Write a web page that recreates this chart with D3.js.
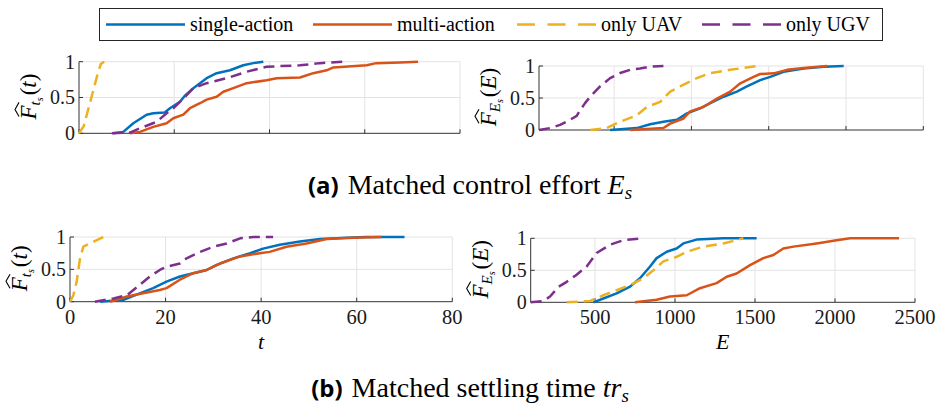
<!DOCTYPE html>
<html><head><meta charset="utf-8">
<script src="https://cdn.jsdelivr.net/npm/d3@7"></script>
<style>body{margin:0;background:#fff} svg{display:block}</style>
</head><body><svg id="c" width="936" height="417"></svg>
<script>
// Empirical CDFs: [x, F] breakpoints for each configuration
const seriesNames = ["single-action", "multi-action", "only UAV", "only UGV"];

// (a) matched control effort — settling time t
const effortT_single = [[7.2,0],[9.3,0.02],[11.4,0.14],[14.2,0.26],[15.6,0.28],[18,0.29],[19.1,0.35],[21.2,0.44],[22.3,0.53],[24,0.63],[25.4,0.7],[26.8,0.77],[28.9,0.84],[31.7,0.88],[34.5,0.95],[36.6,0.98],[38.7,1]];
const effortT_multi = [[10.7,0],[12.8,0.02],[15.6,0.09],[18.4,0.14],[19.8,0.21],[21.9,0.26],[23.3,0.35],[25.4,0.42],[26.8,0.47],[28.9,0.51],[30.3,0.58],[32.4,0.63],[35.2,0.7],[39.4,0.74],[41.5,0.77],[46.4,0.78],[49.2,0.84],[52,0.88],[53.4,0.92],[60.4,0.95],[62.4,0.98],[67.4,0.99],[71.2,1]];
const effortT_uav = [[0,0],[1,0.1],[2,0.35],[3,0.6],[4,0.85],[4.6,0.97],[5.3,1]];
const effortT_ugv = [[6.9,0],[10.7,0.01],[12.8,0.07],[16.3,0.16],[18.4,0.28],[19.8,0.35],[22.3,0.51],[24,0.63],[26.8,0.7],[31,0.77],[35.2,0.86],[39.4,0.93],[46.4,0.95],[50.6,0.98],[55.5,1]];

// (a) matched control effort — energy E
const effortE_single = [[474,0],[647,0.03],[733,0.09],[819,0.13],[906,0.16],[971,0.26],[1057,0.34],[1122,0.42],[1208,0.52],[1294,0.6],[1359,0.68],[1445,0.78],[1510,0.83],[1596,0.91],[1726,0.96],[1855,0.99],[1985,1]];
const effortE_multi = [[604,0],[819,0.03],[863,0.1],[949,0.18],[992,0.29],[1078,0.36],[1165,0.49],[1251,0.6],[1316,0.73],[1402,0.83],[1445,0.875],[1532,0.885],[1618,0.94],[1726,0.97],[1877,1]];
const effortE_uav = [[345,0],[453,0.03],[539,0.13],[647,0.23],[712,0.36],[798,0.44],[863,0.6],[927,0.68],[1035,0.81],[1122,0.89],[1251,0.94],[1424,1]];
const effortE_ugv = [[14,0],[86,0.03],[150,0.08],[215,0.16],[258,0.22],[280,0.31],[312,0.42],[345,0.52],[409,0.68],[474,0.81],[539,0.89],[604,0.94],[668,0.96],[733,0.99],[819,1]];

// (b) matched settling time — settling time t
const settleT_single = [[6.3,0],[11.2,0.03],[14.6,0.13],[17.4,0.21],[20.2,0.31],[23,0.39],[25.8,0.44],[28.6,0.49],[30.7,0.57],[34.2,0.67],[37.7,0.75],[40.4,0.82],[43.9,0.88],[48.1,0.93],[52.3,0.97],[57.9,0.99],[62,1],[70,1]];
const settleT_multi = [[8.4,0],[11.9,0.08],[15.3,0.13],[18.8,0.18],[20.2,0.21],[23,0.34],[25.8,0.44],[28.6,0.49],[31.4,0.59],[35.6,0.7],[39.7,0.75],[41.8,0.77],[45.3,0.85],[49.5,0.9],[53.7,0.97],[59.3,0.99],[65.2,1]];
const settleT_uav = [[0,0],[0.7,0.1],[1.4,0.31],[2.1,0.67],[2.8,0.85],[4.2,0.9],[5.6,0.95],[7,1]];
const settleT_ugv = [[5.2,0],[9.1,0.05],[11.9,0.1],[14.6,0.26],[16.7,0.39],[18.8,0.49],[20.2,0.54],[23,0.59],[24.4,0.67],[27.2,0.77],[30,0.85],[32.8,0.9],[35.6,0.98],[38.4,1],[42.5,1]];

// (b) matched settling time — energy E
const settleE_single = [[490,0],[552,0.06],[635,0.14],[719,0.245],[781,0.375],[844,0.56],[885,0.69],[948,0.79],[1010,0.84],[1052,0.92],[1135,0.98],[1302,1],[1510,1]];
const settleE_multi = [[750,0],[885,0.04],[969,0.09],[1073,0.11],[1156,0.22],[1260,0.3],[1323,0.4],[1385,0.45],[1469,0.58],[1552,0.69],[1615,0.74],[1677,0.84],[1740,0.87],[1885,0.92],[2010,0.97],[2094,1],[2400,1]];
const settleE_uav = [[323,0],[469,0.02],[552,0.11],[635,0.19],[719,0.27],[802,0.375],[865,0.5],[927,0.64],[1010,0.71],[1073,0.79],[1177,0.87],[1302,0.92],[1427,1]];
const settleE_ugv = [[98,0],[177,0.02],[219,0.09],[271,0.24],[323,0.32],[385,0.43],[448,0.56],[510,0.77],[594,0.9],[677,0.97],[792,1]];

// Tick values
const ticksT = [0, 20, 40, 60, 80];
const ticksE = [500, 1000, 1500, 2000, 2500];
const ticksF = [0, 0.5, 1];

const colors = ["#0072BD", "#D95319", "#EDB120", "#7E2F8E"];
const dashes = [null, null, "11,6", "11,6"];
const serif = "'Liberation Serif', 'Times New Roman', serif";

const svg = d3.select("#c");

const panels = [
  {box:[79, 460, 133.3, 61.7], xmax:80, ticks:ticksT, labels:false, sub:"t", arg:"t",
   data:[effortT_single, effortT_multi, effortT_uav, effortT_ugv]},
  {box:[539, 923.3, 130, 66], xmax:2500, ticks:ticksE, labels:false, sub:"E", arg:"E",
   data:[effortE_single, effortE_multi, effortE_uav, effortE_ugv]},
  {box:[70, 452.3, 301.7, 237], xmax:80, ticks:ticksT, labels:true, sub:"t", arg:"t", xlab:"t",
   data:[settleT_single, settleT_multi, settleT_uav, settleT_ugv]},
  {box:[530.7, 915, 302.3, 238.3], xmax:2500, ticks:ticksE, labels:true, sub:"E", arg:"E", xlab:"E",
   data:[settleE_single, settleE_multi, settleE_uav, settleE_ugv]}
];

function yLabel(g, cx, cy, sub, arg) {
  const G = g.append("g").attr("transform", `translate(${cx},${cy}) rotate(-90)`);
  const t = G.append("text").attr("y", 6).attr("font-family", serif).attr("fill", "#000");
  const f = t.append("tspan").attr("font-style", "italic").attr("font-size", 23).text("F");
  t.append("tspan").attr("font-style", "italic").attr("font-size", 15).attr("dy", 4).text(sub);
  t.append("tspan").attr("font-style", "italic").attr("font-size", 10).attr("dy", 3).text("s");
  t.append("tspan").attr("font-size", 23).attr("dy", -7).attr("dx", 2).text("(");
  t.append("tspan").attr("font-style", "italic").attr("font-size", 23).text(arg);
  t.append("tspan").attr("font-size", 23).text(")");
  const w = t.node().getComputedTextLength();
  t.attr("x", -w / 2);
  const fw = f.node().getComputedTextLength();
  const hx = -w / 2 + 3;
  G.append("path")
    .attr("d", `M${hx},${-11} L${hx + fw / 2},${-15} L${hx + fw},${-11}`)
    .attr("fill", "none").attr("stroke", "#000").attr("stroke-width", 1.1);
}

panels.forEach(p => {
  const [x0, x1, y0, y1] = p.box;
  const xmin = p.xmax === 80 ? 0 : d3.min(p.data[3], d => d[0]);
  const x = d3.scaleLinear().domain([xmin, p.xmax]).range([x0, x1]);
  const y = d3.scaleLinear().domain([0, 1]).range([y0, y1]);
  const g = svg.append("g");

  // grid
  g.selectAll(null).data(p.ticks.filter(v => v > xmin)).join("line")
    .attr("x1", d => x(d)).attr("x2", d => x(d)).attr("y1", y0).attr("y2", y1)
    .attr("stroke", "#e3e3e3").attr("stroke-width", 1);
  g.selectAll(null).data(ticksF.filter(v => v > 0)).join("line")
    .attr("x1", x0).attr("x2", x1).attr("y1", d => y(d)).attr("y2", d => y(d))
    .attr("stroke", "#e3e3e3").attr("stroke-width", 1);

  // axes
  const ax = g.append("g").attr("stroke", "#333").attr("stroke-width", 1);
  ax.append("line").attr("x1", x0).attr("x2", x1).attr("y1", y0).attr("y2", y0);
  ax.append("line").attr("x1", x0).attr("x2", x0).attr("y1", y0).attr("y2", y1);
  ax.selectAll(null).data(p.ticks.filter(v => v >= xmin)).join("line")
    .attr("x1", d => x(d)).attr("x2", d => x(d)).attr("y1", y0).attr("y2", y0 - 4);
  ax.selectAll(null).data(ticksF).join("line")
    .attr("x1", x0).attr("x2", x0 + 4).attr("y1", d => y(d)).attr("y2", d => y(d));

  // y tick labels
  g.selectAll(null).data(ticksF).join("text")
    .attr("x", x0 - 4).attr("y", d => y(d)).attr("dy", "0.34em")
    .attr("text-anchor", "end").attr("font-family", serif).attr("font-size", 20)
    .attr("fill", "#1a1a1a").text(d => d3.format("")(d));

  if (p.labels) {
    g.selectAll(null).data(p.ticks).join("text")
      .attr("x", d => x(d)).attr("y", y0 + 22)
      .attr("text-anchor", "middle").attr("font-family", serif).attr("font-size", 20.5)
      .attr("fill", "#1a1a1a").text(d => d);
    g.append("text").attr("x", (x0 + x1) / 2).attr("y", y0 + 47)
      .attr("text-anchor", "middle").attr("font-family", serif).attr("font-style", "italic")
      .attr("font-size", 22).text(p.xlab);
  }

  yLabel(g, x0 - 49, (y0 + y1) / 2, p.sub, p.arg);

  const line = d3.line().x(d => x(d[0])).y(d => y(d[1]));
  p.data.forEach((s, i) => {
    g.append("path").attr("d", line(s)).attr("fill", "none")
      .attr("stroke", colors[i]).attr("stroke-width", 2.5)
      .attr("stroke-dasharray", dashes[i]).attr("stroke-linejoin", "round");
  });
});

// legend
const lg = svg.append("g");
lg.append("rect").attr("x", 99.5).attr("y", 8.5).attr("width", 783).attr("height", 32)
  .attr("fill", "#fff").attr("stroke", "#262626").attr("stroke-width", 1);
const legendX = [106, 313, 517, 702];
seriesNames.forEach((name, i) => {
  const lx = legendX[i];
  lg.append("line").attr("x1", lx).attr("x2", lx + 79).attr("y1", 24.5).attr("y2", 24.5)
    .attr("stroke", colors[i]).attr("stroke-width", 2.5)
    .attr("stroke-dasharray", dashes[i] ? "18,12.5" : null);
  lg.append("text").attr("x", lx + 84).attr("y", 31).attr("font-family", serif)
    .attr("font-size", 20).attr("fill", "#000").text(name);
});

// sub-figure captions
function caption(yb, tag, words, math, sub) {
  const t = svg.append("text").attr("x", 470).attr("y", yb).attr("text-anchor", "middle").attr("fill", "#000");
  t.append("tspan").attr("font-family", "'Open Sans', sans-serif").attr("font-weight", "bold")
    .attr("font-size", 24).text(tag);
  t.append("tspan").attr("font-family", serif).attr("font-size", 28).attr("dx", 9).text(words + " ");
  t.append("tspan").attr("font-family", serif).attr("font-style", "italic").attr("font-size", 28).text(math);
  t.append("tspan").attr("font-family", serif).attr("font-style", "italic").attr("font-size", 19).attr("dy", 5).text(sub);
}
caption(194, "(a)", "Matched control effort", "E", "s");
caption(397, "(b)", "Matched settling time", "tr", "s");
</script></body></html>
